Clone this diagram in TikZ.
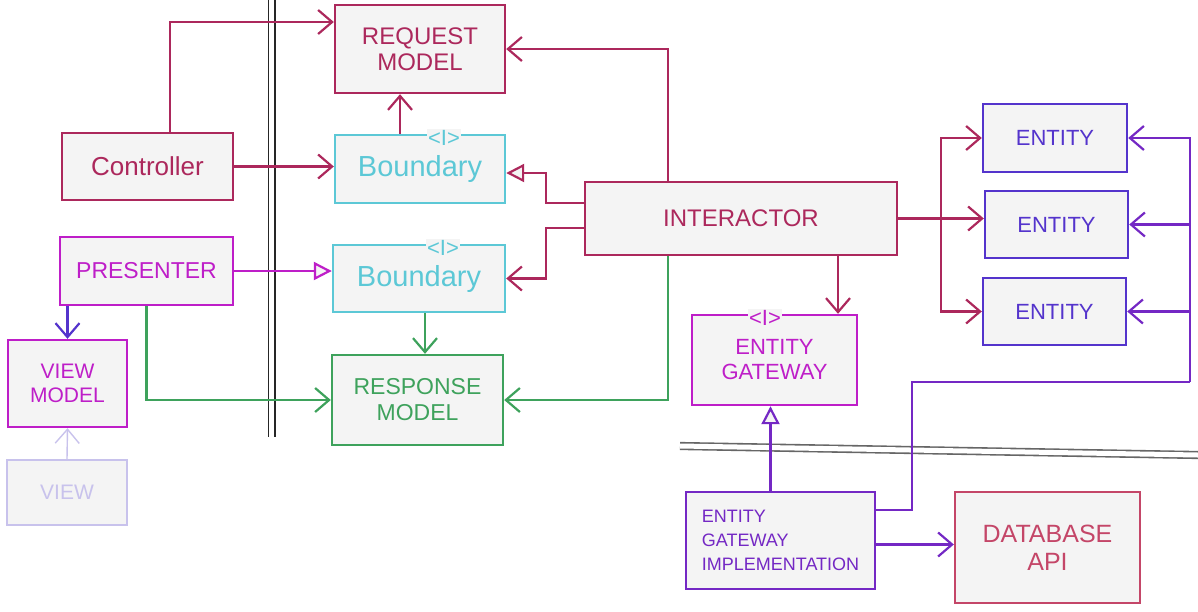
\documentclass[tikz,border=0pt]{standalone}
\usepackage{fontspec}
\setmainfont{Liberation Sans}
\usepackage{tikz}
\usetikzlibrary{arrows.meta,positioning}

\definecolor{crim}{RGB}{172,40,92}
\definecolor{dbred}{RGB}{196,70,104}
\definecolor{cyn}{RGB}{92,200,214}
\definecolor{mag}{RGB}{190,30,200}
\definecolor{grn}{RGB}{62,162,92}
\definecolor{blu}{RGB}{84,52,204}
\definecolor{vio}{RGB}{116,40,196}
\definecolor{lav}{RGB}{200,194,236}
\definecolor{boxfill}{RGB}{244,244,244}

\begin{document}
\begin{tikzpicture}[y=-0.5pt,x=0.5pt,
	box/.style={draw=#1, text=#1, fill=boxfill, line width=1.2pt, inner sep=0pt, align=center},
	iface/.style={text=#1, fill=boxfill, inner sep=0.5pt, font=\fontsize{11}{11}\selectfont},
	arr/.style={line width=1.1pt, -{Straight Barb[length=7pt,width=12pt]}},
	tri/.style={line width=1.1pt, -{Triangle[open,length=9pt,width=9pt,fill=boxfill]}}]

	\useasboundingbox (0,0) rectangle (1198,611);

	% layer boundaries
	\draw[black!85, line width=0.9pt, double, double distance=2.2pt] (271.5,0) -- (271.5,437);
	\draw[black!60, line width=0.8pt, double, double distance=2.5pt] (680,446) -- (1198,455);

	\node[box=crim, minimum width=85pt, minimum height=44pt, font=\fontsize{12}{13}\selectfont] (req) at (420,49) {REQUEST\\MODEL};
	\node[box=crim, minimum width=85.5pt, minimum height=33.5pt, font=\fontsize{13}{14}\selectfont] (ctrl) at (147.5,166.5) {Controller};
	\node[box=cyn, minimum width=85pt, minimum height=34pt, font=\fontsize{14.5}{15}\selectfont] (bnd1) at (420,169) {Boundary};
	\node[box=cyn, minimum width=86pt, minimum height=33.5pt, font=\fontsize{14.5}{15}\selectfont] (bnd2) at (419,278.5) {Boundary};
	\node[box=mag, minimum width=86.5pt, minimum height=34pt, font=\fontsize{11.5}{12}\selectfont] (pres) at (146.5,271) {PRESENTER};
	\node[box=mag, minimum width=59.5pt, minimum height=43.5pt, font=\fontsize{10.5}{12}\selectfont] (vm) at (67.5,383.5) {VIEW\\MODEL};
	\node[box=lav, line width=0.8pt, minimum width=60pt, minimum height=32.5pt, font=\fontsize{10.5}{12}\selectfont] (view) at (67,492.5) {VIEW};
	\node[box=grn, minimum width=85.5pt, minimum height=45pt, font=\fontsize{11.5}{13}\selectfont] (resp) at (417.5,400) {RESPONSE\\MODEL};
	\node[box=crim, minimum width=156pt, minimum height=36.5pt, font=\fontsize{12}{13}\selectfont] (inter) at (741,218.5) {INTERACTOR};
	\node[box=mag, minimum width=82.5pt, minimum height=45pt, font=\fontsize{11}{12.5}\selectfont] (egw) at (774.5,360) {ENTITY\\GATEWAY};
	\node[box=blu, minimum width=72pt, minimum height=34pt, font=\fontsize{11}{12}\selectfont] (ent1) at (1055,138) {ENTITY};
	\node[box=blu, minimum width=71.5pt, minimum height=33.5pt, font=\fontsize{11}{12}\selectfont] (ent2) at (1056.5,224.5) {ENTITY};
	\node[box=blu, minimum width=71.5pt, minimum height=33.5pt, font=\fontsize{11}{12}\selectfont] (ent3) at (1054.5,311.5) {ENTITY};
	\node[box=vio, minimum width=94.5pt, minimum height=48.5pt, align=left, font=\fontsize{9}{12}\selectfont] (egi) at (780.5,540.5) {ENTITY\\GATEWAY\\IMPLEMENTATION};
	\node[box=dbred, minimum width=92.5pt, minimum height=55.5pt, font=\fontsize{12.5}{14}\selectfont] (db) at (1047.5,547.5) {DATABASE\\API};

	\node[iface=cyn] (bnd1i) at ([xshift=12pt,yshift=-2pt]bnd1.north) {<I>};
	\node[iface=cyn] (bnd2i) at ([xshift=12pt,yshift=-2pt]bnd2.north) {<I>};
	\node[iface=mag] (egwi) at ([xshift=-4.75pt,yshift=-2pt]egw.north) {<I>};

	% controller side
	\draw[crim, arr] ([xshift=11.25pt]ctrl.north) |- ([yshift=13.5pt]req.west);
	\draw[crim, arr] (ctrl.east) -- (ctrl.east -| bnd1.west);
	\draw[crim, arr] ([xshift=-10pt]bnd1.north) -- ([xshift=-10pt]bnd1.north |- req.south);

	% interactor to boundaries and models
	\draw[crim, arr] ([xshift=-36.5pt]inter.north) |- (req.east);
	\draw[crim, tri] ([yshift=7.75pt]inter.west) -- ++(-19pt,0) |- ([yshift=-2pt]bnd1.east);
	\draw[crim, arr] ([yshift=-4.75pt]inter.west) -- ++(-19pt,0) |- (bnd2.east);
	\draw[grn, arr] ([xshift=-36.5pt]inter.south) |- (resp.east);

	% presenter side
	\draw[mag, tri] (pres.east) -- (pres.east -| bnd2.west);
	\draw[grn, arr] ([xshift=3pt]bnd2.south) -- ([xshift=3pt]bnd2.south |- resp.north);
	\draw[grn, arr] (pres.south) |- (resp.west);
	\draw[blu, arr] (vm.north |- pres.south) -- (vm.north);
	\draw[lav, arr, line width=0.7pt] (view.north) -- (vm.south);

	% entities and gateway
	\coordinate (split) at ([xshift=21.5pt]inter.east);
	\draw[crim, arr] (inter.east) -- (inter.east -| ent2.west);
	\draw[crim, arr] (split) |- (ent1.west);
	\draw[crim, arr] (split) |- (ent3.west);
	\draw[crim, arr] ([xshift=48.5pt]inter.south) -- ([xshift=48.5pt]inter.south |- egw.north);

	\coordinate (bus1) at (912,382);
	\coordinate (bus2) at (1190,382);
	\draw[vio, line width=1.1pt] ([yshift=15.25pt]egi.east) -| (bus1) -- (bus2);
	\draw[vio, arr] (bus2) |- (ent1.east);
	\draw[vio, arr] (bus2 |- ent2.east) -- (ent2.east);
	\draw[vio, arr] (bus2 |- ent3.east) -- (ent3.east);
	\draw[vio, tri] ([xshift=-5pt]egi.north) -- ([xshift=-5pt]egi.north |- egw.south);
	\draw[vio, arr] ([yshift=-2pt]egi.east) -- ([yshift=-2pt]egi.east -| db.west);
\end{tikzpicture}
\end{document}
